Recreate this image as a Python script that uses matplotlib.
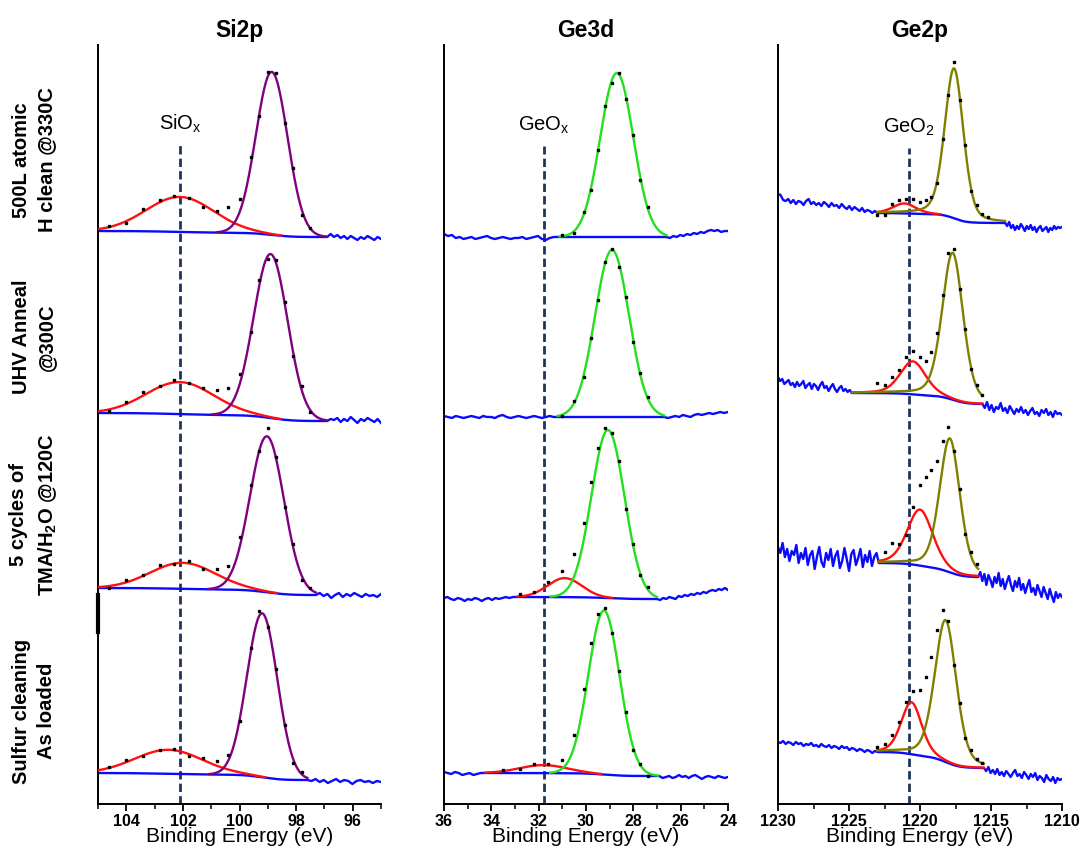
import matplotlib
matplotlib.use('Agg')
import matplotlib.pyplot as plt
import numpy as np
from matplotlib.ticker import MultipleLocator

plt.rcParams['font.family'] = ['Liberation Sans', 'DejaVu Sans']
plt.rcParams['mathtext.fontset'] = 'custom'
plt.rcParams['mathtext.rm'] = 'Liberation Sans'
plt.rcParams['mathtext.it'] = 'Liberation Sans:italic'
plt.rcParams['mathtext.bf'] = 'Liberation Sans:bold'

# ---- data (intensities in arbitrary offset units, rows listed top -> bottom) ----
ROW_LABELS = ['500L atomic\nH clean @330C', 'UHV Anneal\n@300C',
              '5 cycles of\nTMA/H$_\\mathbf{2}$O @120C', 'Sulfur cleaning\nAs loaded']

# Si2p
SI_WIN = [(105.0, 96.9), (105.0, 96.9), (105.0, 97.3), (105.0, 97.6)]
SI_BG = [(573, 567), (391, 383), (216, 209), (31, 24)]
SI_OX = [(102.1, 35, 1.2), (102.1, 32, 1.2), (102.0, 26, 1.15), (102.5, 24, 1.2)]
SI_MAIN = [(98.86, 163, 0.56), (98.9, 164, 0.6), (99.03, 156, 0.6), (99.2, 164, 0.54)]
SI_TAIL_L = [[], [], [], []]
SI_TAIL_R = [[0, 3, 0, 2, -1, 1, -2, 1, -1, -3, 0, -2, 1, -1, -3, 0, -2],
             [0, 2, 1, 3, -1, 2, 0, 4, 1, -2, 2, 0, 3, 1, -1, 2, -2],
             [0, 2, -1, 1, -3, 0, 2, -2, 1, -1, 2, 0, -2, 1, -1, 0, -2, 1],
             [0, -1, 1, -2, 0, -3, -1, 1, -2, 0, -1, -4, -1, 0, -2, -1, -3, -1, -2]]
SI_DOT_E = [104.6, 104.0, 103.4, 102.8, 102.3, 101.8, 101.3, 100.8, 100.4,
            100.0, 99.6, 99.3, 99.0, 98.7, 98.4, 98.1, 97.8, 97.5]
SI_RESID = [[1, -2, 3, 2, 1, 0, -3, 2, 9, 6, 4, -4, 3, 5, -3, 4, -5, 0],
            [-2, 2, 3, 1, 2, 0, 1, 6, 8, 4, -3, 3, -4, 3, 2, -3, 4, -2],
            [-2, 2, 1, 3, 0, 2, -1, 3, 2, 5, 3, -2, 8, 2, -3, 4, -4, 1],
            [1, 2, -1, 0, 1, -2, 2, 3, 1, -3, 2, 4, -2, 3, 0, -4, 2, 1]]

# Ge3d
GE3_WIN = [(31.2, 26.6), (31.2, 26.7), (33.1, 27.0), (34.3, 26.9)]
GE3_BG = [(567, 567), (387, 387), (207, 205), (31, 28)]
GE3_OX = [(31.0, 0, 0.7), (31.0, 0, 0.7), (30.9, 19, 0.72), (31.8, 8, 1.0)]
GE3_MAIN = [(28.7, 164, 0.7), (28.9, 167, 0.72), (29.07, 168, 0.7), (29.24, 164, 0.66)]
GE3_TAIL_L = [[3, 1, 2, -1, 0, -2, -1, 0, -2, -1, 0, 1, -1, -2, -1, 0, -1, -2, -1, -1,
               0, -2, -1, 0, 1, -2, -3, -1, 0, 0],
              [1, 0, -1, 1, 0, -1, 0, 1, 0, -1, 1, 0, 0, -1, 1, 2, 0, -1, 0, 1,
               0, -1, 0, 1, 0, -1, 0, 1, 0, 0],
              [-1, 0, -2, -3, -1, -2, -4, -2, -3, -1, -2, -4, -2, -1, -3, -1, -2, -1, 0, -1, 0],
              [1, 0, -1, 1, 0, -2, -1, 0, -2, -1, 0, 0]]
GE3_TAIL_R = [[0, -1, 1, 0, 2, 1, 3, 2, 4, 3, 5, 4, 6, 7, 6, 7, 5, 6, 6],
              [0, -1, 0, 1, 0, 2, 1, 0, 2, 3, 2, 3, 4, 3, 4, 5, 4, 5],
              [0, -1, 1, 0, 2, 1, 0, 3, 2, 4, 3, 5, 4, 6, 5, 7, 6, 8, 9, 8, 10, 9, 11, 9],
              [0, -2, -1, 0, -2, -1, 1, -1, 0, -2, 0, 1, -1, -3, -1, 0, -1, -2, 0, -1, -2, -1]]
GE3_DOT_E = [33.5, 32.8, 32.2, 31.6, 31.0, 30.5, 30.1, 29.8, 29.5, 29.2,
             28.9, 28.6, 28.3, 28.0, 27.7, 27.4]
GE3_RESID = [[0, 0, 0, 0, 1, -2, 3, -1, 2, 4, -3, 2, -1, 3, -2, 1],
             [0, 0, 0, 0, -1, 2, -2, 3, -1, 2, 1, -3, 2, -1, 2, 1],
             [0, 2, 1, 3, 4, 6, 7, 12, 8, 4, 2, 3, -2, 3, -1, 2],
             [1, -1, 2, 1, 3, 8, 12, 15, 8, 3, -2, 2, 4, -2, 1, -3]]

# Ge2p
GE2_WIN = [(1223.0, 1214.0), (1224.8, 1215.6), (1222.9, 1215.9), (1223.0, 1215.5)]
GE2_BG = [(591, 581), (411, 400), (241, 227), (52, 36)]
GE2_OX = [(1221.1, 10, 0.8), (1220.5, 33, 0.9), (1220.0, 56, 0.9), (1220.6, 52, 0.72)]
GE2_MAIN = [(1217.6, 150, 0.66), (1217.7, 147, 0.74), (1217.9, 134, 0.72), (1218.2, 142, 0.76)]
GE2_TAIL_L = [[19, 18, 13, 12, 14, 10, 13, 9, 12, 11, 8, 12, 14, 9, 11, 8, 10, 7, 11, 9,
               6, 10, 7, 8, 5, 9, 6, 4, 7, 3, 6, 4, 2, 5, 1, 3, 2, 0, 2, 0],
              [16, 12, 14, 9, 11, 13, 8, 10, 6, 11, 7, 9, 12, 5, 8, 10, 4, 9, 7, 3,
               8, 11, 5, 7, 2, 6, 9, 4, 1, 5, 7, 2, 4, 1, 3, 0],
              [16, 10, 20, 6, 14, 2, 12, 8, 18, 0, 10, 4, 15, -2, 8, 12, -6, 6, 16, 1,
               -4, 10, 3, 14, -3, 7, 12, -5, 2, 15, 4, -8, 9, 13, -2, 5, 14, -4, 8, 1,
               12, -3, 6, 10, 0],
              [10, 9, 11, 8, 10, 9, 7, 10, 8, 9, 6, 8, 7, 9, 6, 7, 5, 8, 6, 5,
               7, 4, 6, 5, 3, 6, 4, 5, 2, 4, 3, 1, 3, 2, 0, 2, 1, -1, 1, 0]]
GE2_TAIL_R = [[0, -3, 1, -5, -2, -7, -3, -6, -1, -4, -8, -3, -6, -2, -7, -4, -9, -5, -3, -8,
               -6, -4, -9, -5, -7, -3, -6, -4, -5, -4],
              [0, -4, 2, -6, -1, -8, -3, -5, 1, -7, -4, -9, -2, -6, -10, -5, -8, -3, -9, -6,
               -11, -7, -4, -10, -8, -12, -6, -9, -5, -11, -8, -13, -7, -10, -9, -11],
              [0, 5, -4, 3, -8, 2, -3, -10, 0, -6, 4, -9, -2, -12, -5, 1, -8, -14, -4, -10,
               -1, -13, -7, -16, -9, -3, -15, -11, -18, -8, -14, -20, -10, -16, -22, -12,
               -19, -25, -15, -21, -17, -20],
              [0, -3, 1, -5, -2, -6, -1, -7, -4, -8, -3, -6, -9, -5, -2, -8, -6, -10, -4, -7,
               -11, -6, -9, -5, -12, -8, -10, -14, -7, -11, -13, -9, -15, -10, -12, -11]]
GE2_DOT_E = [1223.0, 1222.5, 1222.0, 1221.5, 1221.0, 1220.5, 1220.0, 1219.6, 1219.2,
             1218.8, 1218.4, 1218.0, 1217.6, 1217.2, 1216.8, 1216.4, 1216.0, 1215.6, 1215.2]
GE2_RESID = [[-4, -6, 2, 3, 2, 4, 3, 5, 2, -3, 4, -2, 6, -3, 4, -2, 3, 2, 1],
             [7, 3, 5, 4, 6, 6, 4, 3, 7, 5, 6, 9, 4, -3, 3, -2, 2, 0, 0],
             [4, 6, 12, 2, -4, 6, 18, 26, 30, 22, 12, 5, -3, 2, -4, 3, 2, 0, 0],
             [2, 3, 5, 4, 3, 5, 15, 28, 30, 22, 12, 4, -3, 2, -2, 3, 1, 0, 0]]

# Lorentzian fraction of the fitted line shapes per core level
ETA = {'Si2p': 0.0, 'Ge3d': 0.0, 'Ge2p': 0.3}

BLUE = '#0a0aff'
RED = '#ff1010'
NAVY = '#1f3458'


def peak(E, c, h, s, eta=0.0):
    hw = 1.1774 * s
    g = np.exp(-(E - c) ** 2 / (2.0 * s ** 2))
    lor = 1.0 / (1.0 + ((E - c) / hw) ** 2)
    return h * ((1 - eta) * g + eta * lor)


def draw_row(ax, xlim, win, bg, ox, main, tail_l, tail_r, dot_e, resid, main_color, eta):
    E = np.linspace(win[0], win[1], 400)
    g_ox = peak(E, *ox, eta)
    g_main = peak(E, *main, eta)
    p = g_ox + g_main
    # shirley-like step: fraction of peak area at lower binding energy
    cum = np.cumsum(p[::-1])[::-1]
    F = cum / cum[0]
    back = bg[1] + (bg[0] - bg[1]) * F

    xs, ys = [], []
    if len(tail_l):
        xs.append(np.linspace(xlim[0], win[0], len(tail_l)))
        ys.append(bg[0] + np.array(tail_l))
    xs.append(E)
    ys.append(back)
    if len(tail_r):
        xs.append(np.linspace(win[1], xlim[1], len(tail_r)))
        ys.append(bg[1] + np.array(tail_r))
    ax.plot(np.concatenate(xs), np.concatenate(ys), color=BLUE, lw=1.7, zorder=2)

    for g, col in [(g_ox, RED), (g_main, main_color)]:
        m = g > 0.4
        if m.sum() > 1:
            ax.plot(E[m], back[m] + g[m], color=col, lw=1.7, zorder=3)

    de = np.array(dot_e)
    r = np.array(resid)
    keep = (de <= win[0]) & (de >= win[1])
    de, r = de[keep], r[keep]
    cum_d = np.interp(-de, -E, F)
    bd = bg[1] + (bg[0] - bg[1]) * cum_d
    yd = bd + peak(de, *ox, eta) + peak(de, *main, eta) + r
    ax.plot(de, yd, ls='none', marker='s', ms=2.0, color='black', zorder=4)


def draw_column(ax, title, xlim, major, minor, win, bg, ox, main, tl, tr, dot_e, resid,
                main_color, ref_e, ref_top, ref_label):
    for i in range(4):
        draw_row(ax, xlim, win[i], bg[i], ox[i], main[i], tl[i], tr[i], dot_e, resid[i],
                 main_color, ETA[title])
    ax.vlines(ref_e, 0, ref_top, colors=NAVY, linestyles=(0, (3.0, 1.5)), lw=2.0, zorder=1)
    ax.text(ref_e, ref_top + 21, ref_label, ha='center', va='center', fontsize=14.5)
    ax.set_xlim(*xlim)
    ax.set_ylim(0, 759)
    ax.xaxis.set_major_locator(MultipleLocator(major))
    ax.xaxis.set_minor_locator(MultipleLocator(minor))
    ax.tick_params(axis='x', which='major', direction='out', length=5, width=1.3,
                   labelsize=11.5, pad=2)
    ax.tick_params(axis='x', which='minor', direction='out', length=3.5, width=1.1)
    for lab in ax.get_xticklabels():
        lab.set_fontweight('bold')
    ax.set_yticks([])
    ax.spines['top'].set_visible(False)
    ax.spines['right'].set_visible(False)
    ax.spines['left'].set_linewidth(1.4)
    ax.spines['bottom'].set_linewidth(1.4)
    ax.set_xlabel('Binding Energy (eV)', fontsize=15, labelpad=-1)
    ax.set_title(title, fontsize=16.5, fontweight='bold', pad=6)


fig = plt.figure(figsize=(10.81, 8.49), dpi=100)
bottom, height = 45 / 849, 759 / 849
ax1 = fig.add_axes([98 / 1081, bottom, 283 / 1081, height])
ax2 = fig.add_axes([444 / 1081, bottom, 284 / 1081, height])
ax3 = fig.add_axes([778 / 1081, bottom, 284 / 1081, height])

draw_column(ax1, 'Si2p', (105, 95), 2, 1, SI_WIN, SI_BG, SI_OX, SI_MAIN, SI_TAIL_L,
            SI_TAIL_R, SI_DOT_E, SI_RESID, '#800080', 102.1, 659, 'SiO$_\\mathrm{x}$')
draw_column(ax2, 'Ge3d', (36, 24), 2, 1, GE3_WIN, GE3_BG, GE3_OX, GE3_MAIN, GE3_TAIL_L,
            GE3_TAIL_R, GE3_DOT_E, GE3_RESID, '#22e01c', 31.78, 658, 'GeO$_\\mathrm{x}$')
draw_column(ax3, 'Ge2p', (1230, 1210), 5, 2.5, GE2_WIN, GE2_BG, GE2_OX, GE2_MAIN,
            GE2_TAIL_L, GE2_TAIL_R, GE2_DOT_E, GE2_RESID, '#808000', 1220.8, 656,
            'GeO$_2$')

# small thick mark on the Si2p axis
ax1.plot([0, 0], [172, 209], transform=ax1.get_yaxis_transform(), color='black', lw=3,
         clip_on=False)

row_y = [160, 337, 515, 711]
for lab, yp in zip(ROW_LABELS, row_y):
    fig.text(34 / 1081, 1 - yp / 849, lab, rotation=90, ha='center', va='center',
             fontsize=14.5, fontweight='bold', multialignment='center', linespacing=1.45)

fig.savefig('out.png', dpi=100)
